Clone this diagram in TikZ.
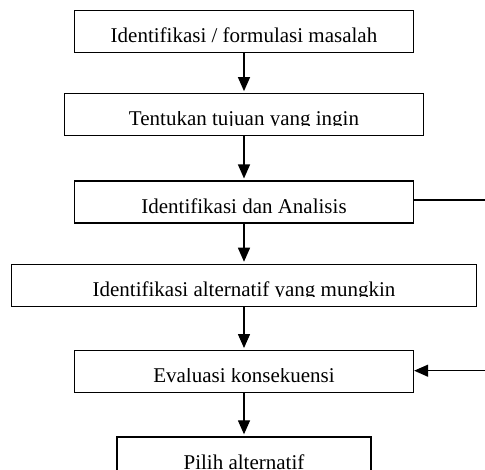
\documentclass[tikz,border=0pt]{standalone}
\usepackage{fontspec}
\setmainfont{Liberation Serif}
\usepackage{trimclip}
\usepackage{tikz}
\usetikzlibrary{arrows.meta, positioning}

% teks terpotong di garis dasar, seperti di gambar asli
\newcommand{\potong}[1]{\clipbox{0pt 0pt 0pt 0pt}{\raisebox{0pt}[\height][0pt]{#1}}}

\begin{document}
\begin{tikzpicture}[x=1pt, y=1pt,
            proses/.style={rectangle, draw=black, line width=1.3pt, fill=white,
                           minimum width=339pt, minimum height=42pt, inner sep=0pt,
                           text height=22pt, text depth=0pt,
                           font=\fontsize{21pt}{25pt}\selectfont},
            arr/.style   ={-{Triangle[width=12pt, length=14pt]}, line width=1.3pt, black}
        ]
            \useasboundingbox (0,0) rectangle (485,-470);
            \clip (0,0) rectangle (485,-470);
            \coordinate (tepi) at (492,0);

            \node[proses] (ident) at (244,-31.5) {\potong{Identifikasi / formulasi masalah}};
            \node[proses, minimum width=359pt, below=40pt of ident] (tujuan)   {\potong{Tentukan tujuan yang ingin}};
            \node[proses, below=44pt of tujuan]                    (analisis) {\potong{Identifikasi dan Analisis}};
            \node[proses, minimum width=465pt, below=40pt of analisis] (alt)  {\potong{Identifikasi alternatif yang mungkin}};
            \node[proses, below=43pt of alt]                       (evaluasi) {\potong{Evaluasi konsekuensi}};
            \node[proses, minimum width=254pt, below=43pt of evaluasi] (pilih) {\potong{Pilih alternatif}};

            \draw[arr, shorten >=2pt] (ident)    -- (tujuan);
            \draw[arr, shorten >=2pt] (tujuan)   -- (analisis);
            \draw[arr, shorten >=2pt] (analisis) -- (alt);
            \draw[arr, shorten >=2pt] (alt)      -- (evaluasi);
            \draw[arr, shorten >=2pt] (evaluasi) -- (pilih);
            \draw[line width=1.3pt] ([yshift=2pt]analisis.east) -- ([yshift=2pt]analisis.east -| tepi);
            \draw[arr] ([yshift=1pt]evaluasi.east -| tepi) -- ([yshift=1pt]evaluasi.east);
        \end{tikzpicture}
\end{document}
